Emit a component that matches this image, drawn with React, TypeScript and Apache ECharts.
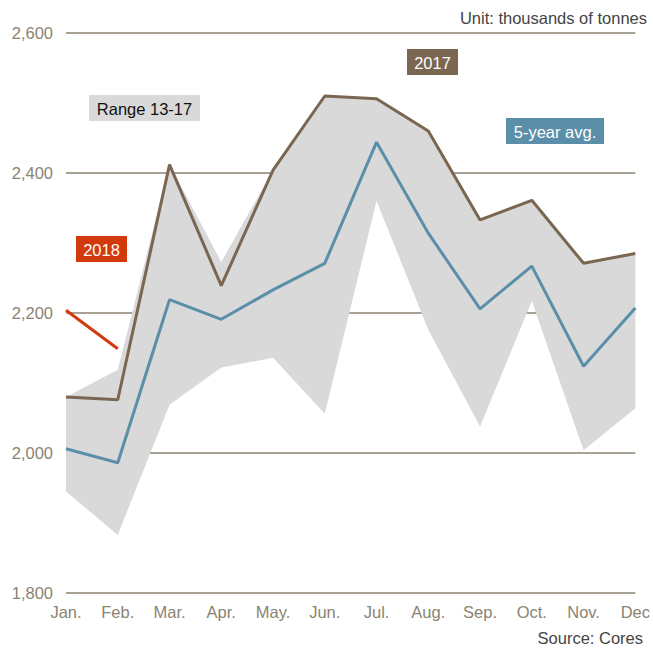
import React, { useEffect, useRef } from "react";
import * as echarts from "echarts";

const months = ["Jan.", "Feb.", "Mar.", "Apr.", "May.", "Jun.", "Jul.", "Aug.", "Sep.", "Oct.", "Nov.", "Dec"];
const y2017 = [2080, 2076, 2412, 2239, 2404, 2510, 2506, 2460, 2333, 2361, 2271, 2285];
const avg5 = [2006, 1986, 2219, 2191, 2233, 2271, 2444, 2314, 2206, 2267, 2124, 2207];
const y2018 = [2204, 2149, null, null, null, null, null, null, null, null, null, null];
const rangeLow = [1945, 1883, 2069, 2122, 2136, 2056, 2360, 2176, 2038, 2217, 2004, 2064];
const rangeHigh = [2080, 2119, 2412, 2273, 2404, 2510, 2506, 2460, 2333, 2361, 2271, 2285];
const yTicks = [1800, 2600, 200];

const axisColor = "#8b8371";
const font = "Liberation Sans, Arial, sans-serif";
const fs = 16.5;

function box(x: number, y: number, w: number, h: number, bg: string, fg: string, text: string) {
  return {
    type: "group",
    x,
    y,
    children: [
      { type: "rect", shape: { x: 0, y: 0, width: w, height: h }, style: { fill: bg } },
      {
        type: "text",
        x: w / 2,
        y: h / 2 + 1,
        style: { text, fill: fg, font: `${fs}px ${font}`, align: "center", verticalAlign: "middle" },
      },
    ],
  };
}

export default function App() {
  const ref = useRef<HTMLDivElement>(null);
  useEffect(() => {
    document.body.style.margin = "0";
    const chart = echarts.init(ref.current!, null, { renderer: "svg" });
    const diff = rangeHigh.map((v, i) => v - rangeLow[i]);
    chart.setOption({
      animation: false,
      grid: { left: 66, right: 10, top: 33, bottom: 55, containLabel: false },
      xAxis: {
        type: "category",
        data: months,
        boundaryGap: false,
        axisLine: { show: false },
        axisTick: { show: false },
        axisLabel: { color: axisColor, fontSize: fs, fontFamily: font, margin: 10 },
        splitLine: { show: false },
      },
      yAxis: {
        type: "value",
        min: yTicks[0],
        max: yTicks[1],
        interval: yTicks[2],
        axisLine: { show: false },
        axisTick: { show: false },
        axisLabel: {
          color: axisColor,
          fontSize: fs,
          fontFamily: font,
          margin: 13,
          formatter: (v: number) => v.toLocaleString("en-US"),
        },
        splitLine: { lineStyle: { color: axisColor, width: 1.5 } },
      },
      series: [
        {
          name: "low",
          type: "line",
          data: rangeLow,
          stack: "range",
          symbol: "none",
          lineStyle: { opacity: 0 },
          silent: true,
        },
        {
          name: "Range 13-17",
          type: "line",
          data: diff,
          stack: "range",
          symbol: "none",
          lineStyle: { opacity: 0 },
          areaStyle: { color: "#d9d9d9", opacity: 1 },
          silent: true,
        },
        {
          name: "2017",
          type: "line",
          data: y2017,
          symbol: "none",
          lineStyle: { color: "#7b6651", width: 3 },
        },
        {
          name: "5-year avg.",
          type: "line",
          data: avg5,
          symbol: "none",
          lineStyle: { color: "#5b8fa9", width: 3 },
        },
        {
          name: "2018",
          type: "line",
          data: y2018,
          symbol: "none",
          lineStyle: { color: "#d23a0c", width: 3 },
        },
      ],
      graphic: [
        {
          type: "text",
          right: 6,
          top: 9,
          style: { text: "Unit: thousands of tonnes", fill: "#444444", font: `${fs}px ${font}` },
        },
        {
          type: "text",
          right: 10,
          top: 629,
          style: { text: "Source: Cores", fill: "#444444", font: `${fs}px ${font}` },
        },
        box(89, 95, 111, 26, "#d9d9d9", "#111111", "Range 13-17"),
        box(407, 49, 51, 26, "#7b6651", "#ffffff", "2017"),
        box(506, 118, 98, 26, "#5b8fa9", "#ffffff", "5-year avg."),
        box(76, 236, 51, 26, "#d23a0c", "#ffffff", "2018"),
      ],
    });
    return () => chart.dispose();
  }, []);
  return <div ref={ref} style={{ width: 653, height: 648 }} />;
}
